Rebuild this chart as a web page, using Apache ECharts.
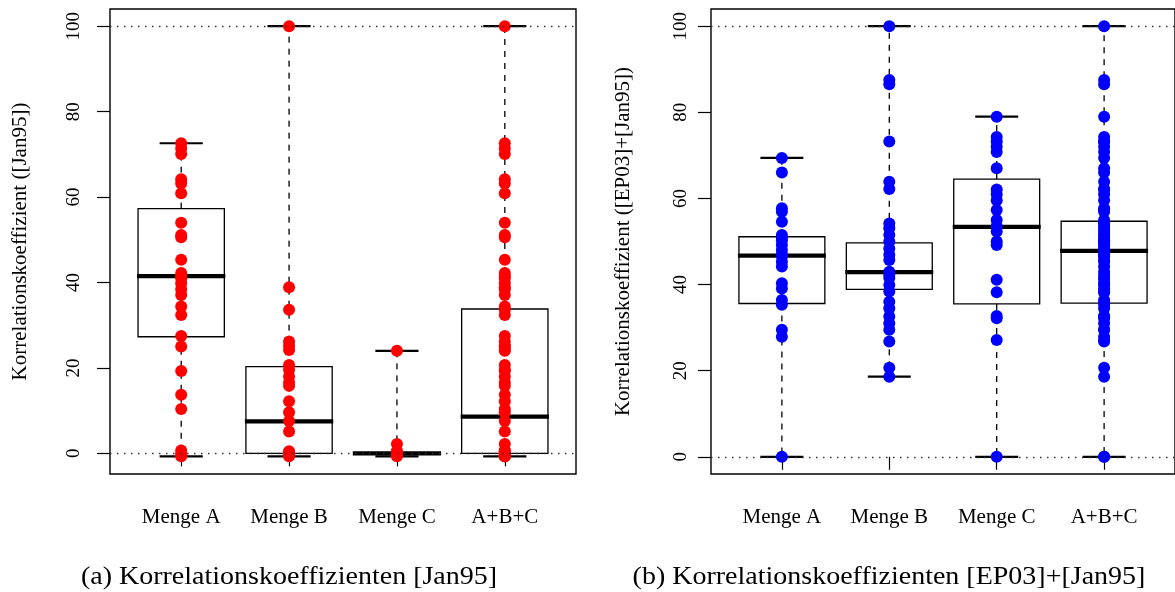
<!DOCTYPE html>
<html>
<head>
<meta charset="utf-8">
<script src="https://cdn.jsdelivr.net/npm/echarts@6/dist/echarts.min.js"></script>
<style>
  html, body { margin: 0; padding: 0; background: #fff; }
  #chart { width: 1175px; height: 592px; }
</style>
</head>
<body>
<div id="chart"></div>
<script>
// Group names along the x axis and y tick values
const groups = ['Menge A', 'Menge B', 'Menge C', 'A+B+C'];
const yTicks = [0, 20, 40, 60, 80, 100];

// (a) correlation coefficients [Jan95], single values per group
const jan95A = [72.6, 71.4, 70.1, 64.2, 63.2, 60.9, 54.0, 51.1, 50.6, 45.3, 42.2, 41.5, 41.0, 39.8,
                38.4, 37.1, 34.4, 32.4, 27.5, 25.0, 19.3, 13.7, 10.4, 0.7, -0.1, -0.7];
const jan95B = [100, 38.9, 33.6, 26.2, 25.2, 24.2, 20.7, 19.6, 18.0, 16.6, 15.8, 12.2, 9.6, 7.6,
                5.1, 0.5, 0.2, 0, 0, 0, -0.3, -0.7];
const jan95C = [24.0, 2.2, 0.6, 0, 0, 0, 0, 0, -0.3, -0.7];
const jan95ABC = [].concat(jan95A, jan95B, jan95C);

// (a) box summaries: [min, lower hinge, median, upper hinge, max]
const jan95BoxA = [-0.7, 27.3, 41.5, 57.3, 72.6];
const jan95BoxB = [-0.7, 0, 7.5, 20.3, 100];
const jan95BoxC = [-0.7, 0, 0, 0, 24.0];
const jan95BoxABC = [-0.7, 0, 8.6, 33.8, 100];

// (b) correlation coefficients [EP03]+[Jan95]
const ep03A = [69.4, 66.0, 57.7, 56.9, 54.6, 51.5, 50.8, 50.3, 49.2, 48.0, 47.0, 46.6, 45.3, 44.2,
               40.3, 39.1, 36.4, 35.3, 29.5, 27.9, 0];
const ep03B = [100, 87.5, 86.5, 73.2, 63.9, 62.2, 54.2, 53.1, 51.5, 50.0, 48.4, 46.9, 45.7, 43.0,
               42.3, 41.5, 39.9, 38.4, 36.0, 34.5, 32.6, 31.0, 29.5, 26.8, 20.7, 18.6];
const ep03C = [79.0, 74.3, 73.2, 72.0, 70.8, 67.0, 62.1, 61.0, 59.6, 57.3, 55.0, 53.6, 52.3, 50.0,
               49.2, 41.1, 38.2, 32.7, 32.2, 27.1, 0];
const ep03ABC = [].concat(ep03A, ep03B, ep03C);

// (b) box summaries
const ep03BoxA = [0, 35.6, 46.7, 51.1, 69.4];
const ep03BoxB = [18.6, 38.9, 42.9, 49.7, 100];
const ep03BoxC = [0, 35.5, 53.4, 64.5, 79.0];
const ep03BoxABC = [0, 35.7, 47.8, 54.7, 100];

const FONT = '"Liberation Serif", "DejaVu Serif", serif';

function boxData(boxes) {
  return boxes.map((b, i) => [i + 1].concat(b));
}
function pointData(sets) {
  const out = [];
  sets.forEach((vals, i) => vals.forEach(v => out.push([i + 1, v])));
  return out;
}

// Box with dashed whiskers, half-width caps and a heavy median bar
function renderBox(params, api) {
  const x = api.value(0);
  const pLo = api.coord([x, api.value(1)]);
  const pQ1 = api.coord([x, api.value(2)]);
  const pMed = api.coord([x, api.value(3)]);
  const pQ3 = api.coord([x, api.value(4)]);
  const pHi = api.coord([x, api.value(5)]);
  const bw = api.size([0.8, 0])[0];
  const cw = bw / 2;
  const cx = pMed[0];
  const thin = { stroke: '#000', lineWidth: 1.3, fill: null };
  const dashed = { stroke: '#000', lineWidth: 1.3, lineDash: [6, 6] };
  const cap = { stroke: '#000', lineWidth: 2.2 };
  return {
    type: 'group',
    children: [
      { type: 'line', shape: { x1: cx, y1: pQ3[1], x2: cx, y2: pHi[1] }, style: dashed },
      { type: 'line', shape: { x1: cx, y1: pQ1[1], x2: cx, y2: pLo[1] }, style: dashed },
      { type: 'line', shape: { x1: cx - cw / 2, y1: pHi[1], x2: cx + cw / 2, y2: pHi[1] }, style: cap },
      { type: 'line', shape: { x1: cx - cw / 2, y1: pLo[1], x2: cx + cw / 2, y2: pLo[1] }, style: cap },
      { type: 'rect', shape: { x: cx - bw / 2, y: pQ3[1], width: bw, height: pQ1[1] - pQ3[1] }, style: thin },
      { type: 'line', shape: { x1: cx - bw / 2 - 1, y1: pMed[1], x2: cx + bw / 2 + 1, y2: pMed[1] },
        style: { stroke: '#000', lineWidth: 4.2 } }
    ]
  };
}

function xAxisFor(gi) {
  return {
    gridIndex: gi, type: 'value', min: 0.34, max: 4.66,
    axisLine: { show: false },
    splitLine: { show: false },
    axisTick: { show: true, customValues: [1, 2, 3, 4], length: 13, lineStyle: { color: '#000', width: 1.2 } },
    axisLabel: {
      customValues: [1, 2, 3, 4], margin: 33,
      formatter: v => groups[Math.round(v) - 1],
      color: '#000', fontFamily: FONT, fontSize: 21
    }
  };
}
function yAxisFor(gi, min, max, title, labelMargin, nameGap) {
  return {
    gridIndex: gi, type: 'value', min: min, max: max,
    name: title, nameLocation: 'middle', nameGap: nameGap, nameRotate: 90,
    nameTextStyle: { color: '#000', fontFamily: FONT, fontSize: 21 },
    axisLine: { show: false },
    splitLine: { show: false },
    axisTick: { show: true, customValues: yTicks, length: 13, lineStyle: { color: '#000', width: 1.2 } },
    axisLabel: {
      customValues: yTicks, rotate: 90, margin: labelMargin,
      color: '#000', fontFamily: FONT, fontSize: 19
    }
  };
}

const refLines = {
  silent: true, symbol: 'none', label: { show: false },
  lineStyle: { color: '#333', width: 1.3, type: [1.5, 5.5] },
  data: [{ yAxis: 0 }, { yAxis: 100 }]
};

const captionFont = '25px ' + FONT;

const chart = echarts.init(document.getElementById('chart'), null, { renderer: 'canvas' });
chart.setOption({
  animation: false,
  backgroundColor: '#fff',
  grid: [
    { left: 110, top: 9, width: 466, height: 465, show: true, borderColor: '#000', borderWidth: 1.4 },
    { left: 711, top: 9, width: 466, height: 465, show: true, borderColor: '#000', borderWidth: 1.4 }
  ],
  xAxis: [xAxisFor(0), xAxisFor(1)],
  yAxis: [
    yAxisFor(0, -4.83, 104.03, 'Korrelationskoeffizient ([Jan95])', 26, 79),
    yAxisFor(1, -4, 104, 'Korrelationskoeffizient ([EP03]+[Jan95])', 20, 77)
  ],
  graphic: [
    { type: 'text', x: 289, y: 577, scaleX: 1.12, style: { text: '(a) Korrelationskoeffizienten [Jan95]', fill: '#000',
      font: captionFont, textAlign: 'center', textVerticalAlign: 'middle' } },
    { type: 'text', x: 889, y: 577, scaleX: 1.12, style: { text: '(b) Korrelationskoeffizienten [EP03]+[Jan95]', fill: '#000',
      font: captionFont, textAlign: 'center', textVerticalAlign: 'middle' } }
  ],
  series: [
    { type: 'custom', xAxisIndex: 0, yAxisIndex: 0, z: 2, renderItem: renderBox,
      data: boxData([jan95BoxA, jan95BoxB, jan95BoxC, jan95BoxABC]), markLine: refLines },
    { type: 'scatter', xAxisIndex: 0, yAxisIndex: 0, z: 3, symbolSize: 12,
      itemStyle: { color: '#ff0000', opacity: 1 },
      data: pointData([jan95A, jan95B, jan95C, jan95ABC]) },
    { type: 'custom', xAxisIndex: 1, yAxisIndex: 1, z: 2, renderItem: renderBox,
      data: boxData([ep03BoxA, ep03BoxB, ep03BoxC, ep03BoxABC]), markLine: refLines },
    { type: 'scatter', xAxisIndex: 1, yAxisIndex: 1, z: 3, symbolSize: 12,
      itemStyle: { color: '#0000ff', opacity: 1 },
      data: pointData([ep03A, ep03B, ep03C, ep03ABC]) }
  ]
});
</script>
</body>
</html>
